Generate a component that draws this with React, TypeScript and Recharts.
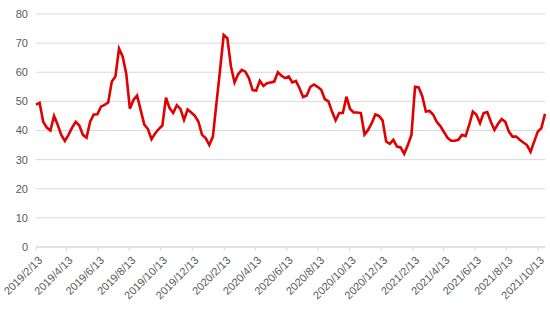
import React from "react";
import { LineChart, Line, XAxis, YAxis, CartesianGrid } from "recharts";

// 週次データ（2019/2/13〜2021/10/27）
const DATES = [
	"2019/2/13", "2019/2/20", "2019/2/27", "2019/3/6", "2019/3/13", "2019/3/20", "2019/3/27",
	"2019/4/3", "2019/4/10", "2019/4/17", "2019/4/24", "2019/5/1", "2019/5/8", "2019/5/15",
	"2019/5/22", "2019/5/29", "2019/6/5", "2019/6/12", "2019/6/19", "2019/6/26", "2019/7/3",
	"2019/7/10", "2019/7/17", "2019/7/24", "2019/7/31", "2019/8/7", "2019/8/14", "2019/8/21",
	"2019/8/28", "2019/9/4", "2019/9/11", "2019/9/18", "2019/9/25", "2019/10/2", "2019/10/9",
	"2019/10/16", "2019/10/23", "2019/10/30", "2019/11/6", "2019/11/13", "2019/11/20", "2019/11/27",
	"2019/12/4", "2019/12/11", "2019/12/18", "2019/12/25", "2020/1/1", "2020/1/8", "2020/1/15",
	"2020/1/22", "2020/1/29", "2020/2/5", "2020/2/12", "2020/2/19", "2020/2/26", "2020/3/4",
	"2020/3/11", "2020/3/18", "2020/3/25", "2020/4/1", "2020/4/8", "2020/4/15", "2020/4/22",
	"2020/4/29", "2020/5/6", "2020/5/13", "2020/5/20", "2020/5/27", "2020/6/3", "2020/6/10",
	"2020/6/17", "2020/6/24", "2020/7/1", "2020/7/8", "2020/7/15", "2020/7/22", "2020/7/29",
	"2020/8/5", "2020/8/12", "2020/8/19", "2020/8/26", "2020/9/2", "2020/9/9", "2020/9/16",
	"2020/9/23", "2020/9/30", "2020/10/7", "2020/10/14", "2020/10/21", "2020/10/28", "2020/11/4",
	"2020/11/11", "2020/11/18", "2020/11/25", "2020/12/2", "2020/12/9", "2020/12/16", "2020/12/23",
	"2020/12/30", "2021/1/6", "2021/1/13", "2021/1/20", "2021/1/27", "2021/2/3", "2021/2/10",
	"2021/2/17", "2021/2/24", "2021/3/3", "2021/3/10", "2021/3/17", "2021/3/24", "2021/3/31",
	"2021/4/7", "2021/4/14", "2021/4/21", "2021/4/28", "2021/5/5", "2021/5/12", "2021/5/19",
	"2021/5/26", "2021/6/2", "2021/6/9", "2021/6/16", "2021/6/23", "2021/6/30", "2021/7/7",
	"2021/7/14", "2021/7/21", "2021/7/28", "2021/8/4", "2021/8/11", "2021/8/18", "2021/8/25",
	"2021/9/1", "2021/9/8", "2021/9/15", "2021/9/22", "2021/9/29", "2021/10/6", "2021/10/13",
	"2021/10/20", "2021/10/27",
];

const VALUES = [
	48.9, 49.5, 43, 41, 40, 45, 42, 38.5, 36.4, 38.5, 41, 43, 41.7, 38.5, 37.5, 43,
	45.5, 45.6, 48.2, 48.8, 49.6, 56.8, 58.5, 68.1, 65.4, 59.5, 47.5, 50.5, 52, 47,
	42, 40.5, 37, 39, 40.5, 41.7, 51.3, 47.7, 46, 48.7, 47.4, 43.6, 47.2, 46.2, 45,
	43, 38.5, 37.4, 35, 37.9, 49.5, 61, 72.8, 71.7, 62, 56.5, 59.3, 60.8, 60.2, 57.9,
	53.9, 53.7, 57.1, 55.3, 56.2, 56.5, 56.8, 60, 58.8, 58, 58.6, 56.5, 57, 54.5,
	51.5, 52, 55, 55.8, 55, 54, 50.8, 50, 46.5, 43.5, 46, 46, 51.6, 47.4, 46.2, 46.2,
	46, 38.6, 40.2, 42.5, 45.5, 45, 43.5, 36.2, 35.4, 36.8, 34.5, 34.2, 32, 35, 38.5,
	55, 54.8, 51.8, 46.5, 46.7, 45.5, 43, 41.5, 39.5, 37.5, 36.5, 36.5, 36.8, 38.5,
	38.1, 41.9, 46.5, 45.4, 42.5, 46, 46.3, 43, 40.2, 42.3, 43.9, 43, 39.6, 37.9,
	37.9, 36.8, 35.9, 35, 32.7, 36.2, 39.6, 40.8, 45.7,
];

const X_TICK_LABELS = [
	"2019/2/13", "2019/4/13", "2019/6/13", "2019/8/13", "2019/10/13", "2019/12/13",
	"2020/2/13", "2020/4/13", "2020/6/13", "2020/8/13", "2020/10/13", "2020/12/13",
	"2021/2/13", "2021/4/13", "2021/6/13", "2021/8/13", "2021/10/13",
];

const Y_TICKS = [0, 10, 20, 30, 40, 50, 60, 70, 80];

const toTime = (s: string) => {
	const [y, m, d] = s.split("/").map(Number);
	return Date.UTC(y, m - 1, d);
};

const fmtDate = (t: number) => {
	const d = new Date(t);
	return `${d.getUTCFullYear()}/${d.getUTCMonth() + 1}/${d.getUTCDate()}`;
};

const data = DATES.map((s, i) => ({ t: toTime(s), value: VALUES[i] }));
const xTicks = X_TICK_LABELS.map(toTime);

const FONT = "'Liberation Sans', Arial, sans-serif";

function DateTick(props: any) {
	const { x, y, payload } = props;
	return (
		<g transform={`translate(${x + 7},${y + 8})`}>
			<text
				x={0}
				y={0}
				textAnchor="end"
				fill="#595959"
				fontSize={11}
				fontFamily={FONT}
				transform="rotate(-45)"
			>
				{fmtDate(payload.value)}
			</text>
		</g>
	);
}

export default function App() {
	return (
		<div style={{ width: 550, height: 309, background: "#fff" }}>
			<style>{`body{margin:0}`}</style>
			<LineChart
				width={550}
				height={309}
				data={data}
				margin={{ top: 14, right: 5, bottom: 0, left: 0 }}
			>
				<CartesianGrid vertical={false} stroke="#d9d9d9" />
				<XAxis
					dataKey="t"
					type="number"
					domain={[data[0].t, data[data.length - 1].t]}
					ticks={xTicks}
					interval={0}
					height={62}
					axisLine={{ stroke: "#d9d9d9" }}
					tickLine={{ stroke: "#d9d9d9" }}
					tickSize={4}
					tick={<DateTick />}
				/>
				<YAxis
					domain={[0, 80]}
					ticks={Y_TICKS}
					width={36}
					axisLine={false}
					tickLine={false}
					tick={{ fill: "#595959", fontSize: 11, fontFamily: FONT }}
				/>
				<Line
					dataKey="value"
					stroke="#e00000"
					strokeWidth={2.6}
					dot={false}
					isAnimationActive={false}
				/>
			</LineChart>
		</div>
	);
}
